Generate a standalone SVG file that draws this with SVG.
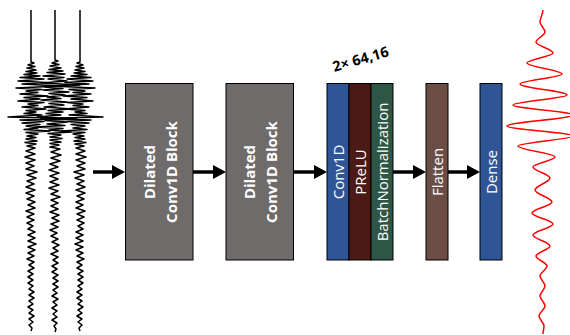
<svg xmlns="http://www.w3.org/2000/svg" xmlns:xlink="http://www.w3.org/1999/xlink" width="570" height="335" viewBox="0 0 570 335">
<style>
.box{stroke:#000;stroke-width:1}
.bt{font-family:"Open Sans","Noto Sans","Liberation Sans",sans-serif;font-weight:bold;font-size:15px;fill:#fff;text-anchor:middle}
.ct{font-family:"Open Sans","Noto Sans","Liberation Sans",sans-serif;font-size:15px;fill:#fff;text-anchor:middle}
.lbl{font-family:"Open Sans","Noto Sans","Liberation Sans",sans-serif;font-weight:bold;font-size:14.5px;fill:#000;text-anchor:middle}
.arr{stroke:#000;stroke-width:3.5;fill:none;marker-end:url(#ah)}
.tr{fill:none;stroke:#000;stroke-width:1.5;stroke-linejoin:round}
</style>
<defs>
<marker id="ah" markerUnits="userSpaceOnUse" markerWidth="14" markerHeight="15" refX="7" refY="7" orient="auto" viewBox="0 0 14 14">
<path d="M0,0 L13,7 L0,14 z" fill="#000"/>
</marker>
<path id="trA" class="tr" d="M0,10 V62 L3,63 -3,65 4,66.5 -4,68 5,70 -5,71.5 6,73 -7,74.5 9,76 -11,77.5 13,79 -13,81 15,82.5 -9,84 29,86 -15,88 11,89.5 -5,91 7,92.5 -11,94 17,96 -7,97.5 9,99 -13,101 13,102.5 -3,104 7,105.5 -9,107 15,109 -5,110.5 5,112 -7,113.5 11,115 -23,117 39,118.5 -11,120 13,121.5 -9,123 9,124.5 -5,126 7,128 -7,129.5 19,131 -5,132.5 7,134 -4,136 5,137.5 -5,139 6,141 -6,142.5 5,144 -4,146 4,148 -5,151 4,154 -6,157 4,160 -5,163 3,166 -5,169 6,172 -4,175 5,178 -4,181 3,184 -5,187 4,190 -5,193 3,196 -4,199 4,202 -3,205 4,208 -5,211 3,214 -4,217 3,220 -4,223 2,226 -3,229 4,232 -3,235 4,238 -3,241 5,244 -3,247 4,250 -3,253 3,256 -4,259 3,262 -2,265 3,268 -3,271 2,274 -3,277 2,280 -3,283 2,286 -2,289 3,292 -2,295 3,298 -2,301 2,304 -3,307 2,310 -2,313 3,316 -2,319 2,322 -2,325 1,328 0,331"/>
<path id="trB" class="tr" d="M0,10 V60 L3,61 -3,63 4,64.5 -5,66 6,68 -6,69.5 8,71 -8,72.5 10,74 -12,76 9,77.5 -7,79 12,81 -14,83 25,85 -10,87 8,88.5 -12,90 14,92 -6,93.5 10,95 -8,97 6,98.5 -14,100 12,102 -6,103.5 9,105 -11,107 16,109 -7,110.5 8,112 -9,113.5 6,115 -18,117 22,119 -10,120.5 12,122 -8,124 10,125.5 -20,127 8,128.5 -6,130 16,132 -7,133.5 6,135 -5,137 7,138.5 -5,140 6,142 -5,143.5 4,145 -5,147 5,149 -4,152 6,155 -4,158 5,161 -5,164 3,167 -6,170 4,173 -5,176 3,179 -5,182 4,185 -6,188 3,191 -4,194 5,197 -4,200 3,203 -4,206 3,209 -5,212 4,215 -3,218 4,221 -4,224 3,227 -5,230 2,233 -4,236 3,239 -3,242 4,245 -2,248 3,251 -4,254 3,257 -2,260 3,263 -3,266 2,269 -3,272 3,275 -2,278 3,281 -2,284 3,287 -2,290 2,293 -3,296 3,299 -2,302 2,305 -3,308 2,311 -2,314 2,317 -3,320 2,323 -1,326 1,329 0,332"/>
</defs>

<g id="input-traces">
<use xlink:href="#trA" transform="translate(31,0)"/>
<use xlink:href="#trB" transform="translate(55,0)"/>
<use xlink:href="#trA" transform="translate(80,0) scale(-1,1)"/>
</g>

<g id="connectors">
<line class="arr" x1="93" y1="172" x2="119" y2="172"/>
<line class="arr" x1="193" y1="172" x2="220" y2="172"/>
<line class="arr" x1="293.5" y1="172" x2="321" y2="172"/>
<line class="arr" x1="393" y1="172" x2="420" y2="172"/>
<line class="arr" x1="448" y1="172" x2="474" y2="172"/>
</g>

<g id="block1">
<rect class="box" x="125.5" y="83.5" width="67.5" height="176.5" fill="#6f6b6a"/>
<text class="bt" transform="translate(154.5,172) rotate(-90)">Dilated</text>
<text class="bt" transform="translate(176.5,172) rotate(-90)">Conv1D Block</text>
</g>

<g id="block2">
<rect class="box" x="226" y="83.5" width="67.5" height="176.5" fill="#6f6b6a"/>
<text class="bt" transform="translate(255,172) rotate(-90)">Dilated</text>
<text class="bt" transform="translate(277,172) rotate(-90)">Conv1D Block</text>
</g>

<g id="label">
<text class="lbl" transform="translate(362,64) rotate(-16)">2× 64,16</text>
</g>

<g id="conv1d">
<rect class="box" x="327" y="83.5" width="22" height="176.5" fill="#2f5597"/>
<text class="ct" transform="translate(343.5,172) rotate(-90)">Conv1D</text>
</g>
<g id="prelu">
<rect class="box" x="349" y="83.5" width="22" height="176.5" fill="#4b1a17"/>
<text class="ct" transform="translate(365.5,172) rotate(-90)">PReLU</text>
</g>
<g id="batchnorm">
<rect class="box" x="371" y="83.5" width="22" height="176.5" fill="#2e5646"/>
<text class="ct" transform="translate(387.5,172) rotate(-90)">BatchNormalization</text>
</g>
<g id="flatten">
<rect class="box" x="426" y="83.5" width="22" height="176.5" fill="#6b4d45"/>
<text class="ct" transform="translate(442.5,172) rotate(-90)">Flatten</text>
</g>
<g id="dense">
<rect class="box" x="480" y="83.5" width="22" height="176.5" fill="#2f5597"/>
<text class="ct" transform="translate(496.5,172) rotate(-90)">Dense</text>
</g>

<g id="output-trace">
<path fill="none" stroke="#ff0000" stroke-width="1.5" d="M543,10 C543,14 540,18 540,22 C540,25.3 545,28.7 545,32 C545,35.3 536,38.7 536,42 C536,45.7 553,49.3 553,53 C553,56.3 527,59.7 527,63 C527,66.7 562,70.3 562,74 C562,77.3 520,80.7 520,84 C520,87.7 567,91.3 567,95 C567,98.3 513,101.7 513,105 C513,108.3 573,111.7 573,115 C573,118.7 507,122.3 507,126 C507,129.3 573,132.7 573,136 C573,139.3 518,142.7 518,146 C518,149.7 555,153.3 555,157 C555,160.3 533,163.7 533,167 C533,170.7 550,174.3 550,178 C550,182 535,186 535,190 C535,194 552,198 552,202 C552,205.7 532,209.3 532,213 C532,216.7 553,220.3 553,224 C553,227.7 533,231.3 533,235 C533,238.7 550,242.3 550,246 C550,249.3 536,252.7 536,256 C536,259.3 547,262.7 547,266 C547,269.3 540,272.7 540,276 C540,279.3 545,282.7 545,286 C545,289.3 540,292.7 540,296 C540,299.3 545,302.7 545,306 C545,309.3 539,312.7 539,316 C539,319.3 544,322.7 544,326 C544,329 543,331 543,334"/>
</g>
</svg>
